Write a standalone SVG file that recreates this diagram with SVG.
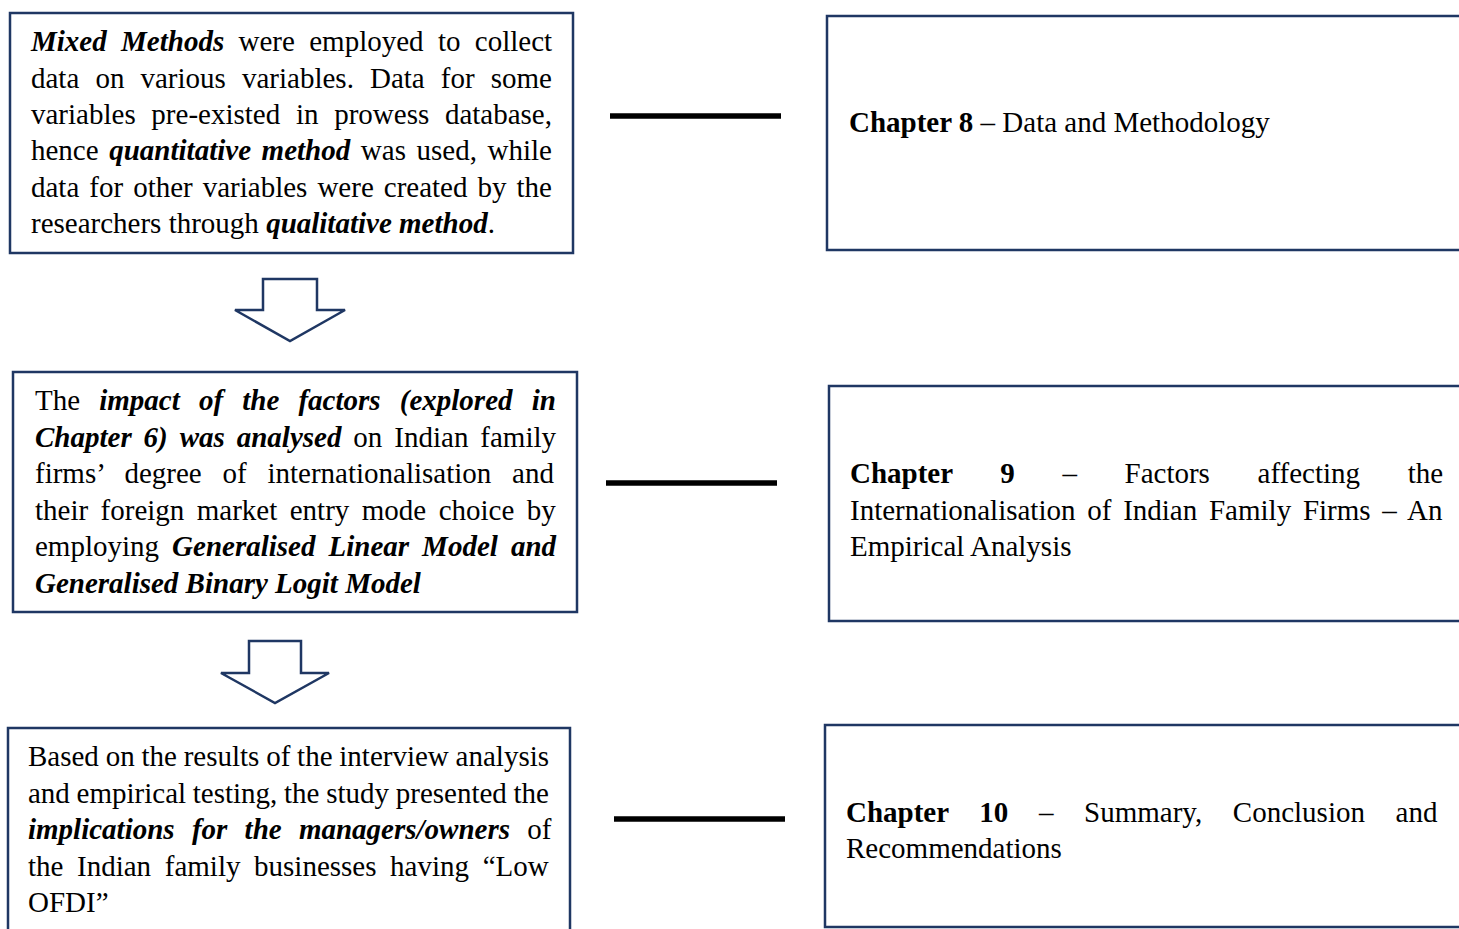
<svg xmlns="http://www.w3.org/2000/svg" width="1459" height="929" viewBox="0 0 1459 929">
<style>
.box{fill:#ffffff;stroke:#1f3763;stroke-width:2.5}
.blk{fill:#ffffff;stroke:#1f3763;stroke-width:2.5;stroke-linejoin:miter;stroke-miterlimit:2}
.con{stroke:#000000;stroke-width:5.5;fill:none}
text{font-family:"Liberation Serif","Times New Roman",serif;font-size:29px;fill:#000000}
.bi{font-weight:bold;font-style:italic}
.b{font-weight:bold}
</style>
<rect width="1459" height="929" fill="#ffffff"/>
<g id="connectors">
<line class="con" x1="610" y1="116" x2="781" y2="116"/>
<line class="con" x1="606" y1="483" x2="777" y2="483"/>
<line class="con" x1="614" y1="819" x2="785" y2="819"/>
<polygon class="blk" points="263,279 317,279 317,310 345,310 290,341 235,310 263,310"/>
<polygon class="blk" points="249,641 301,641 301,673 329,673 275,703 221,673 249,673"/>
</g>
<g id="node-mixed-methods">
<rect class="box" x="10" y="13" width="563" height="240"/>
<text x="31" y="51" style="word-spacing:7.1px"><tspan class="bi">Mixed Methods</tspan> were employed to collect</text>
<text x="31" y="88" style="word-spacing:8.85px">data on various variables. Data for some</text>
<text x="31" y="124" style="word-spacing:8.45px">variables pre-existed in prowess database,</text>
<text x="31" y="160" style="word-spacing:3.35px">hence <tspan class="bi">quantitative method</tspan> was used, while</text>
<text x="31" y="197" style="word-spacing:2.76px">data for other variables were created by the</text>
<text x="31" y="233">researchers through <tspan class="bi">qualitative method</tspan>.</text>
</g>
<g id="node-impact">
<rect class="box" x="13" y="372" width="564" height="240"/>
<text x="35" y="410" style="word-spacing:11.9px">The <tspan class="bi">impact of the factors (explored in</tspan></text>
<text x="35" y="447" style="word-spacing:4.67px"><tspan class="bi">Chapter 6) was analysed</tspan> on Indian family</text>
<text x="35" y="483" style="word-spacing:13.5px">firms’ degree of internationalisation and</text>
<text x="35" y="520" style="word-spacing:5.2px">their foreign market entry mode choice by</text>
<text x="35" y="556" style="word-spacing:5.8px">employing <tspan class="bi">Generalised Linear Model and</tspan></text>
<text x="35" y="593" class="bi">Generalised Binary Logit Model</text>
</g>
<g id="node-implications">
<rect class="box" x="8" y="728" width="562" height="215"/>
<text x="28" y="766" style="word-spacing:-0.47px">Based on the results of the interview analysis</text>
<text x="28" y="803" style="word-spacing:-0.55px">and empirical testing, the study presented the</text>
<text x="28" y="839" style="word-spacing:10px"><tspan class="bi">implications for the managers/owners</tspan> of</text>
<text x="28" y="876" style="word-spacing:6.36px">the Indian family businesses having “Low</text>
<text x="28" y="912">OFDI”</text>
</g>
<g id="node-chapter8">
<rect class="box" x="827" y="16" width="640" height="234"/>
<text x="849" y="132"><tspan class="b">Chapter 8</tspan> – Data and Methodology</text>
</g>
<g id="node-chapter9">
<rect class="box" x="829" y="386" width="640" height="235"/>
<text x="850" y="483" style="word-spacing:40.4px"><tspan class="b">Chapter 9</tspan> – Factors affecting the</text>
<text x="850" y="520" style="word-spacing:4.5px">Internationalisation of Indian Family Firms – An</text>
<text x="850" y="556">Empirical Analysis</text>
</g>
<g id="node-chapter10">
<rect class="box" x="825" y="725" width="640" height="202"/>
<text x="846" y="822" style="word-spacing:23.4px"><tspan class="b">Chapter 10</tspan> – Summary, Conclusion and</text>
<text x="846" y="858">Recommendations</text>
</g>
</svg>
